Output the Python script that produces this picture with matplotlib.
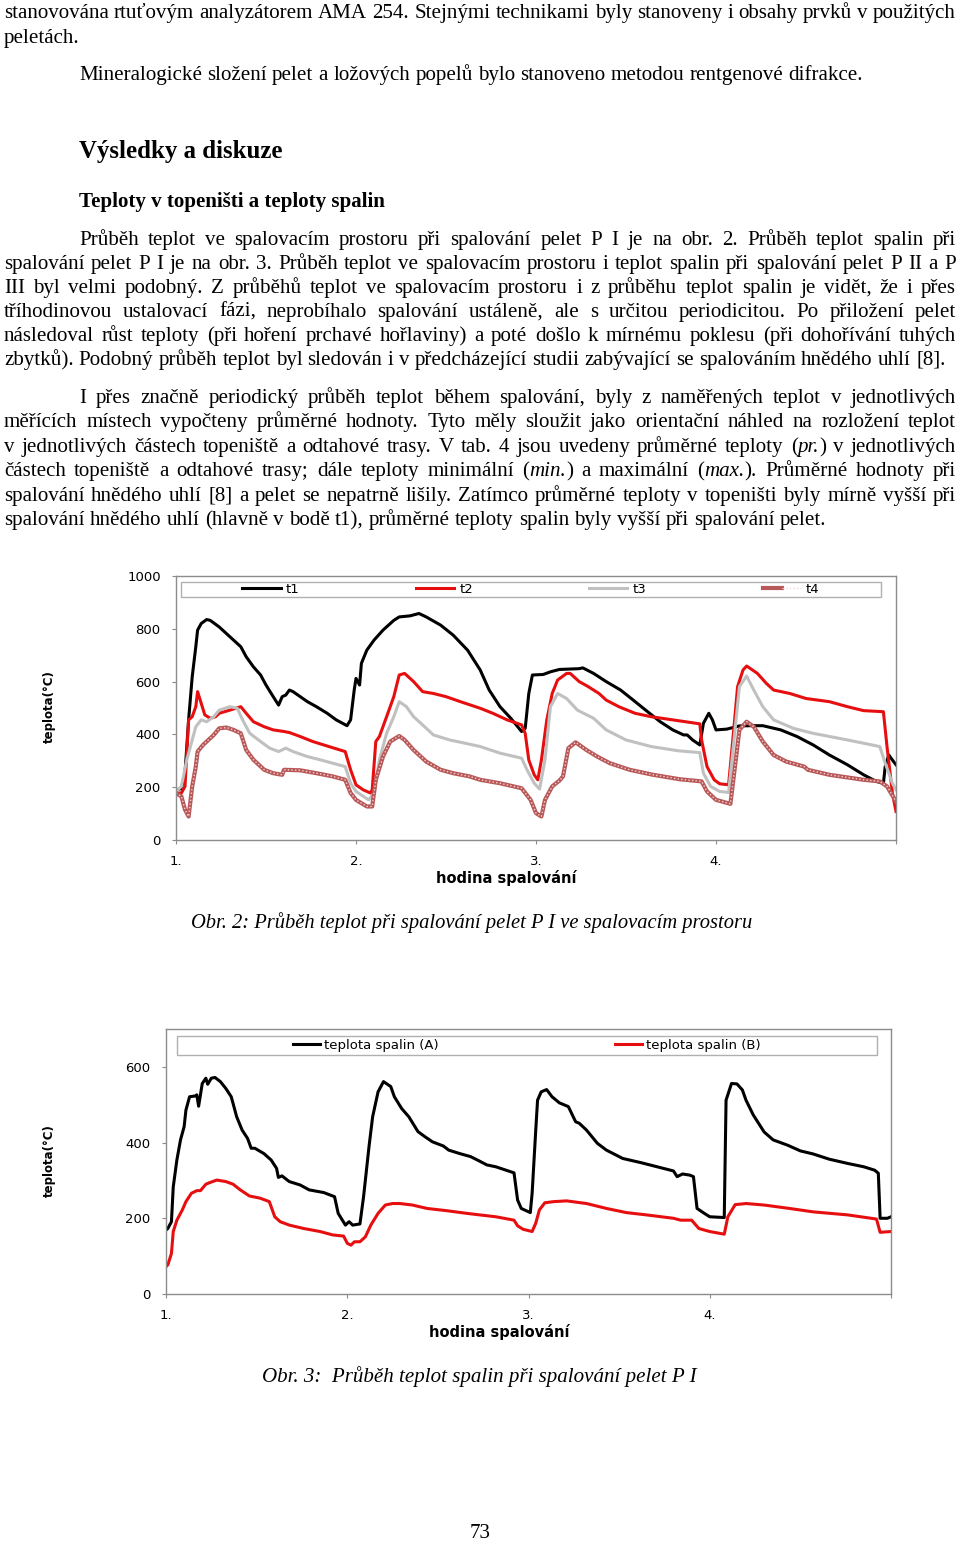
import matplotlib

matplotlib.use("Agg")
import matplotlib.pyplot as plt
from matplotlib.legend_handler import HandlerTuple
from matplotlib.patches import Rectangle

W, H = 960, 1541
SERIF = "Liberation Serif"
SANS = "DejaVu Sans"

# ---------------- Obr. 2: teploty ve spalovacim prostoru ----------------
t1_hours = [0.00, 0.03, 0.05, 0.07, 0.09, 0.11, 0.12, 0.14, 0.17, 0.19,
            0.22, 0.24, 0.28, 0.32, 0.36, 0.39, 0.43, 0.47, 0.50, 0.54,
            0.57, 0.59, 0.61, 0.63, 0.65, 0.69, 0.73, 0.78, 0.84, 0.89,
            0.95, 0.97, 0.99, 1.00, 1.02, 1.03, 1.06, 1.10, 1.15, 1.21,
            1.24, 1.30, 1.35, 1.39, 1.47, 1.54, 1.62, 1.69, 1.74, 1.80,
            1.86, 1.92, 1.94, 1.96, 1.98, 2.04, 2.08, 2.13, 2.24, 2.26,
            2.32, 2.39, 2.47, 2.54, 2.62, 2.69, 2.76, 2.82, 2.84, 2.87,
            2.91, 2.93, 2.96, 2.98, 3.00, 3.06, 3.13, 3.19, 3.26, 3.36,
            3.45, 3.54, 3.63, 3.73, 3.82, 3.89, 3.93, 3.94, 3.96, 3.98,
            4.00]
t1_temp = [190, 195, 253, 455, 618, 732, 795, 820, 835, 832,
           817, 807, 782, 757, 732, 694, 656, 625, 587, 543,
           511, 543, 549, 568, 562, 543, 524, 505, 480, 455,
           433, 455, 568, 612, 587, 669, 719, 757, 795, 832,
           845, 849, 858, 845, 814, 776, 719, 644, 568, 505,
           461, 411, 423, 555, 625, 627, 637, 646, 649, 652,
           631, 600, 568, 530, 486, 448, 417, 398, 398, 379,
           360, 442, 480, 455, 417, 420, 432, 433, 433, 417,
           392, 360, 322, 285, 247, 222, 215, 278, 322, 303,
           285]

t2_hours = [0.00, 0.03, 0.05, 0.07, 0.09, 0.11, 0.12, 0.14, 0.16, 0.19,
            0.22, 0.24, 0.30, 0.36, 0.39, 0.43, 0.49, 0.54, 0.60, 0.63,
            0.69, 0.76, 0.84, 0.94, 0.97, 1.00, 1.04, 1.08, 1.09, 1.11,
            1.13, 1.17, 1.21, 1.24, 1.27, 1.32, 1.37, 1.43, 1.50, 1.58,
            1.69, 1.76, 1.84, 1.92, 1.94, 1.96, 1.99, 2.01, 2.03, 2.06,
            2.09, 2.12, 2.17, 2.19, 2.24, 2.29, 2.35, 2.39, 2.46, 2.55,
            2.64, 2.76, 2.91, 2.92, 2.95, 2.99, 3.02, 3.07, 3.10, 3.12,
            3.15, 3.17, 3.19, 3.23, 3.28, 3.32, 3.41, 3.50, 3.63, 3.73,
            3.82, 3.93, 3.95, 3.98, 4.00]
t2_temp = [178, 178, 203, 455, 467, 505, 562, 518, 474, 461,
           467, 480, 492, 505, 480, 448, 429, 417, 411, 407,
           392, 373, 356, 335, 266, 209, 190, 178, 190, 373,
           392, 467, 543, 625, 631, 600, 562, 555, 543, 524,
           499, 480, 455, 436, 404, 303, 247, 228, 303, 455,
           555, 606, 631, 631, 600, 581, 555, 530, 505, 480,
           467, 455, 440, 379, 278, 228, 213, 209, 429, 581,
           644, 659, 650, 631, 593, 568, 555, 536, 524, 505,
           490, 486, 354, 178, 108]

t3_hours = [0.00, 0.03, 0.06, 0.09, 0.11, 0.14, 0.17, 0.21, 0.24, 0.30,
            0.34, 0.37, 0.41, 0.47, 0.52, 0.57, 0.61, 0.65, 0.73, 0.80,
            0.87, 0.94, 0.97, 1.00, 1.07, 1.10, 1.13, 1.17, 1.21, 1.24,
            1.28, 1.32, 1.37, 1.43, 1.52, 1.61, 1.69, 1.80, 1.92, 1.95,
            1.99, 2.02, 2.05, 2.08, 2.12, 2.17, 2.23, 2.32, 2.39, 2.50,
            2.64, 2.79, 2.91, 2.93, 2.97, 3.02, 3.07, 3.10, 3.13, 3.17,
            3.21, 3.26, 3.32, 3.43, 3.54, 3.73, 3.91, 3.94, 3.98, 4.00]
t3_temp = [184, 203, 304, 379, 429, 455, 448, 467, 492, 505,
           499, 455, 404, 373, 348, 335, 348, 335, 316, 304,
           291, 278, 215, 184, 152, 178, 304, 404, 467, 524,
           505, 467, 436, 398, 379, 366, 354, 329, 310, 266,
           215, 193, 304, 505, 555, 536, 492, 461, 417, 379,
           354, 338, 331, 253, 203, 184, 180, 379, 581, 621,
           568, 505, 455, 423, 404, 379, 354, 291, 215, 190]

t4_hours = [0.00, 0.03, 0.05, 0.07, 0.09, 0.11, 0.12, 0.15, 0.18, 0.21,
            0.24, 0.28, 0.32, 0.36, 0.39, 0.43, 0.49, 0.54, 0.59, 0.60,
            0.69, 0.78, 0.87, 0.94, 0.97, 1.00, 1.06, 1.09, 1.11, 1.15,
            1.19, 1.24, 1.27, 1.32, 1.39, 1.47, 1.54, 1.63, 1.69, 1.80,
            1.92, 1.97, 2.00, 2.03, 2.05, 2.09, 2.13, 2.15, 2.18, 2.22,
            2.28, 2.34, 2.41, 2.52, 2.65, 2.80, 2.92, 2.95, 3.00, 3.08,
            3.11, 3.13, 3.17, 3.21, 3.26, 3.32, 3.39, 3.49, 3.51, 3.63,
            3.82, 3.91, 3.95, 4.00]
t4_temp = [178, 165, 115, 89, 203, 278, 335, 360, 379, 398,
           423, 426, 417, 404, 341, 304, 266, 253, 247, 266,
           264, 253, 241, 228, 178, 152, 127, 127, 228, 316,
           373, 394, 379, 341, 297, 266, 253, 241, 228, 215,
           196, 152, 102, 89, 152, 203, 225, 241, 348, 370,
           341, 316, 291, 266, 247, 230, 222, 184, 152, 137,
           304, 417, 448, 429, 373, 322, 297, 278, 266, 247,
           228, 222, 203, 146]

# ---------------- Obr. 3: teploty spalin ----------------
a_hours = [0.00, 0.01, 0.03, 0.04, 0.06, 0.08, 0.10, 0.11, 0.13, 0.16,
           0.17, 0.18, 0.20, 0.22, 0.23, 0.25, 0.27, 0.30, 0.33, 0.36,
           0.39, 0.42, 0.45, 0.47, 0.49, 0.54, 0.58, 0.61, 0.62, 0.64,
           0.68, 0.74, 0.79, 0.87, 0.93, 0.95, 0.99, 1.01, 1.03, 1.07,
           1.09, 1.12, 1.14, 1.17, 1.20, 1.24, 1.26, 1.30, 1.34, 1.39,
           1.43, 1.47, 1.53, 1.56, 1.62, 1.68, 1.73, 1.77, 1.82, 1.92,
           1.94, 1.96, 2.01, 2.02, 2.04, 2.05, 2.07, 2.10, 2.13, 2.17,
           2.22, 2.26, 2.28, 2.32, 2.38, 2.43, 2.52, 2.62, 2.71, 2.80,
           2.82, 2.85, 2.89, 2.91, 2.93, 2.97, 3.00, 3.08, 3.09, 3.12,
           3.15, 3.18, 3.20, 3.24, 3.30, 3.35, 3.43, 3.50, 3.57, 3.66,
           3.76, 3.85, 3.91, 3.93, 3.94, 3.98, 4.00]
a_temp = [169, 173, 191, 283, 354, 407, 442, 486, 521, 523,
          526, 496, 556, 570, 554, 570, 572, 561, 543, 521,
          468, 433, 411, 385, 385, 371, 354, 332, 308, 312,
          297, 288, 275, 268, 257, 213, 182, 191, 182, 185,
          257, 389, 468, 534, 561, 548, 521, 490, 468, 429,
          415, 402, 391, 380, 371, 363, 351, 341, 336, 320,
          248, 226, 215, 266, 433, 512, 534, 540, 521, 505,
          495, 455, 451, 433, 398, 380, 358, 347, 336, 325,
          310, 317, 314, 310, 226, 213, 204, 202, 512, 556,
          555, 539, 512, 473, 428, 407, 393, 378, 370, 356,
          345, 336, 327, 319, 200, 200, 204]

b_hours = [0.00, 0.01, 0.03, 0.04, 0.06, 0.09, 0.11, 0.14, 0.17, 0.19,
           0.22, 0.24, 0.28, 0.33, 0.37, 0.41, 0.46, 0.52, 0.57, 0.60,
           0.63, 0.68, 0.76, 0.85, 0.92, 0.98, 1.00, 1.02, 1.04, 1.07,
           1.10, 1.13, 1.17, 1.21, 1.25, 1.29, 1.36, 1.44, 1.55, 1.66,
           1.73, 1.82, 1.92, 1.94, 1.97, 2.02, 2.04, 2.06, 2.09, 2.14,
           2.21, 2.32, 2.43, 2.54, 2.65, 2.80, 2.84, 2.90, 2.94, 3.00,
           3.08, 3.10, 3.14, 3.20, 3.30, 3.44, 3.57, 3.76, 3.92, 3.94,
           4.00]
b_temp = [72, 77, 107, 165, 195, 222, 244, 266, 273, 273,
          290, 294, 301, 297, 290, 275, 259, 253, 244, 204,
          191, 182, 173, 165, 156, 153, 134, 129, 138, 138,
          151, 182, 213, 235, 239, 239, 235, 226, 220, 213,
          209, 204, 195, 180, 171, 165, 187, 222, 241, 244,
          246, 239, 226, 215, 209, 200, 195, 195, 173, 165,
          158, 204, 236, 239, 235, 226, 217, 209, 198, 163,
          165]

hour_ticks = [0, 1, 2, 3, 4]
hour_labels = ["1.", "2.", "3.", "4.", ""]
obr2_labels = ["t1", "t2", "t3", "t4"]
obr3_labels = ["teplota spalin (A)", "teplota spalin (B)"]

# ---------------- page text ----------------
top_lines = [
    "stanovována rtuťovým analyzátorem AMA 254. Stejnými technikami byly stanoveny i obsahy prvků v použitých",
    "peletách.",
    "Mineralogické složení pelet a ložových popelů bylo stanoveno metodou rentgenové difrakce.",
]
heading = "Výsledky a diskuze"
subheading = "Teploty v topeništi a teploty spalin"
para1 = [
    "Průběh teplot ve spalovacím prostoru při spalování pelet P I je na obr. 2. Průběh teplot spalin při",
    "spalování pelet P I je na obr. 3. Průběh teplot ve spalovacím prostoru i teplot spalin při spalování pelet P II  a P",
    "III byl velmi podobný. Z průběhů teplot ve spalovacím prostoru i z průběhu teplot spalin je vidět, že i přes",
    "tříhodinovou ustalovací fázi, neprobíhalo spalování ustáleně, ale s určitou periodicitou. Po přiložení pelet",
    "následoval růst teploty (při hoření prchavé hořlaviny) a poté došlo k mírnému poklesu (při dohořívání tuhých",
    "zbytků). Podobný průběh teplot byl sledován i v předcházející studii zabývající se spalováním hnědého uhlí [8].",
]
para2 = [
    "I přes značně periodický průběh teplot během spalování, byly z naměřených teplot v jednotlivých",
    "měřících místech vypočteny průměrné hodnoty. Tyto měly sloužit jako orientační náhled na rozložení teplot",
    "v jednotlivých částech topeniště a odtahové trasy. V tab. 4 jsou uvedeny průměrné teploty (*pr.*) v jednotlivých",
    "částech topeniště a odtahové trasy; dále teploty minimální (*min.*) a maximální (*max.*). Průměrné hodnoty při",
    "spalování hnědého uhlí [8] a pelet se nepatrně lišily. Zatímco průměrné teploty v topeništi byly mírně vyšší při",
    "spalování hnědého uhlí (hlavně v bodě t1), průměrné teploty spalin byly vyšší při spalování pelet.",
]
caption2 = "Obr. 2: Průběh teplot při spalování pelet P I ve spalovacím prostoru"
caption3 = "Obr. 3:  Průběh teplot spalin při spalování pelet P I"
page_number = "73"

fig = plt.figure(figsize=(W / 100, H / 100), dpi=100)
fig.patch.set_facecolor("white")
renderer = fig.canvas.get_renderer()


def px(x, y):
    return x / W, 1 - y / H


def measure(s, size, **kw):
    t = fig.text(0, 0, s, fontsize=size, family=SERIF, **kw)
    w = t.get_window_extent(renderer).width
    t.remove()
    return w


def fit_size(s, width, **kw):
    return 10 * width / measure(s, 10, **kw)


def pieces(word):
    parts = word.split("*")
    return [(p, i % 2 == 1) for i, p in enumerate(parts) if p]


def draw_line(line, x0, y, size, justify, x1=956):
    groups = []
    for word in line.split():
        groups.append([(p, it, measure(p, size, style="italic" if it else "normal"))
                       for p, it in pieces(word)])
    widths = [sum(m for _, _, m in g) for g in groups]
    if justify and len(groups) > 1:
        gap = (x1 - x0 - sum(widths)) / (len(groups) - 1)
    else:
        gap = measure("a a", size) - measure("aa", size)
    x = x0
    for g, wd in zip(groups, widths):
        cx = x
        for p, it, m in g:
            fig.text(*px(cx, y), p, fontsize=size, family=SERIF,
                     style="italic" if it else "normal", ha="left", va="baseline")
            cx += m
        x += wd + gap


body = fit_size(top_lines[2], 781)

draw_line(top_lines[0], 4, 18, body, True)
draw_line(top_lines[1], 4, 43, body, False)
draw_line(top_lines[2], 79, 80, body, False)

fig.text(*px(79, 158), heading, family=SERIF, weight="bold",
         fontsize=fit_size(heading, 204, weight="bold"), va="baseline")
fig.text(*px(79, 207), subheading, family=SERIF, weight="bold",
         fontsize=fit_size(subheading, 308, weight="bold"), va="baseline")

for i, (line, y) in enumerate(zip(para1, [245, 269, 293, 317, 341, 365])):
    draw_line(line, 79 if i == 0 else 4, y, body, i < len(para1) - 1)
for i, (line, y) in enumerate(zip(para2, [403, 427, 452, 476, 501, 525])):
    draw_line(line, 79 if i == 0 else 4, y, body, i < len(para2) - 1)

fig.text(*px(191, 928), caption2, family=SERIF, style="italic",
         fontsize=fit_size(caption2, 561, style="italic"), va="baseline")
fig.text(*px(262, 1382), caption3, family=SERIF, style="italic",
         fontsize=fit_size(caption3, 436, style="italic"), va="baseline")
fig.text(*px(480, 1538), page_number, family=SERIF, fontsize=body,
         ha="center", va="baseline")


# ---------------- charts ----------------
def axes_px(left, top, right, bottom):
    return fig.add_axes([left / W, 1 - bottom / H, (right - left) / W, (bottom - top) / H])


def style_axes(ax, ymax, yticks):
    ax.set_xlim(0, 4)
    ax.set_ylim(0, ymax)
    ax.set_xticks(hour_ticks)
    ax.set_xticklabels(hour_labels)
    ax.set_yticks(yticks)
    for spine in ax.spines.values():
        spine.set_color("#8c8c8c")
        spine.set_linewidth(1.0)
    ax.tick_params(axis="both", direction="out", length=3, width=0.8,
                   color="#8c8c8c", labelsize=9.5)
    ax.tick_params(axis="y", pad=8.0)
    ax.tick_params(axis="x", pad=7.5)
    for lab in ax.get_xticklabels() + ax.get_yticklabels():
        lab.set_family(SANS)


def legend_frame(ax, left, top, right, bottom):
    ax.add_patch(Rectangle(px(left, bottom), (right - left) / W, (bottom - top) / H,
                           transform=fig.transFigure, facecolor="white",
                           edgecolor="#b0b0b0", linewidth=1.0, zorder=4,
                           clip_on=False))


RED = "#e60e0e"

ax1 = axes_px(176, 576, 896, 840)
style_axes(ax1, 1000, [0, 200, 400, 600, 800, 1000])
l1, = ax1.plot(t1_hours, t1_temp, color="black", lw=2.2, solid_joinstyle="round")
l2, = ax1.plot(t2_hours, t2_temp, color=RED, lw=2.2, solid_joinstyle="round")
l3, = ax1.plot(t3_hours, t3_temp, color="#c0c0c0", lw=2.2, solid_joinstyle="round")
l4a, = ax1.plot(t4_hours, t4_temp, color="#b85858", lw=3.0, solid_joinstyle="round")
l4b, = ax1.plot(t4_hours, t4_temp, color="#f2d2d2", lw=1.0, linestyle=(0, (1, 1.6)))

legend_frame(ax1, 181, 582, 881, 597)
leg1 = ax1.legend([l1, l2, l3, (l4a, l4b)], obr2_labels, ncol=4, loc="center",
                  bbox_to_anchor=px(531, 589.5), bbox_transform=fig.transFigure,
                  frameon=False, prop={"family": SANS, "size": 9.5},
                  handlelength=2.9, handletextpad=0.4, columnspacing=8.8,
                  borderpad=0, borderaxespad=0,
                  handler_map={tuple: HandlerTuple(ndivide=None)})
leg1.set_zorder(5)

fig.text(*px(49, 707), "teplota(°C)", family=SANS, weight="bold", fontsize=8.5,
         rotation=90, ha="center", va="center")
fig.text(*px(506, 883), "hodina spalování", family=SANS, weight="bold", fontsize=10.5,
         ha="center", va="baseline")

ax2 = axes_px(166, 1029, 891, 1294)
style_axes(ax2, 700, [0, 200, 400, 600])
la, = ax2.plot(a_hours, a_temp, color="black", lw=2.2, solid_joinstyle="round")
lb, = ax2.plot(b_hours, b_temp, color=RED, lw=2.2, solid_joinstyle="round")

legend_frame(ax2, 177, 1036, 877, 1055)
leg2 = ax2.legend([la, lb], obr3_labels, ncol=2, loc="center",
                  bbox_to_anchor=px(527, 1045.5), bbox_transform=fig.transFigure,
                  frameon=False, prop={"family": SANS, "size": 9.5},
                  handlelength=2.05, handletextpad=0.3, columnspacing=13.4,
                  borderpad=0, borderaxespad=0)
leg2.set_zorder(5)

fig.text(*px(49, 1161), "teplota(°C)", family=SANS, weight="bold", fontsize=8.5,
         rotation=90, ha="center", va="center")
fig.text(*px(499, 1337), "hodina spalování", family=SANS, weight="bold", fontsize=10.5,
         ha="center", va="baseline")

fig.savefig("out.png", dpi=100, facecolor="white")
plt.close(fig)
